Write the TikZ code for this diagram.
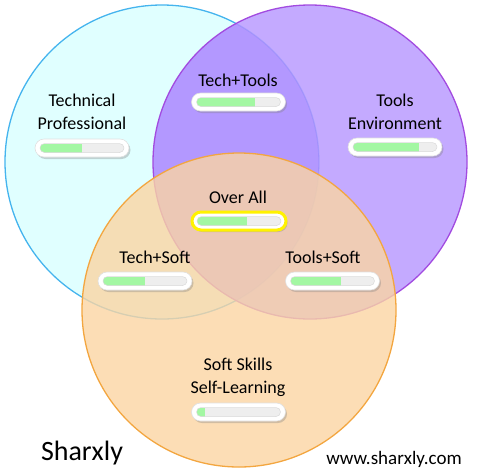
\documentclass[tikz,border=0pt]{standalone}
\usepackage{fontspec}
\setmainfont{Carlito}
\usepackage{tikz}
\usetikzlibrary{calc,shadows}
\definecolor{techfill}{HTML}{E0FFFF}
\definecolor{techline}{HTML}{45B4EE}
\definecolor{toolfill}{HTML}{BA9BFF}
\definecolor{toolline}{HTML}{A24BE0}
\definecolor{bothfill}{HTML}{8A5CFF}
\definecolor{softfill}{HTML}{FBD5A3}
\definecolor{softline}{HTML}{F3A640}
\definecolor{bargreen}{HTML}{A3F7A3}
\definecolor{bartrack}{HTML}{EEEEEE}
\tikzset{
  label text/.style={font=\fontsize{18}{23}\selectfont, align=center, inner sep=0pt},
  barbox/.style={minimum width=94pt, minimum height=18pt, rounded corners=9pt, inner sep=0pt,
    fill=white, draw=black!12, line width=0.6pt,
    drop shadow={shadow xshift=1.5pt, shadow yshift=-2pt, opacity=0.35}},
}
\def\skillbar[#1](#2)(#3)(#4){%
  \node[barbox,#1] (#2) at (#3) {};
  \begin{scope}
    \clip[rounded corners=4.5pt] ($(#2.center)+(-42pt,-4.5pt)$) rectangle ($(#2.center)+(42pt,4.5pt)$);
    \fill[bartrack] ($(#2.center)+(-42pt,-4.5pt)$) rectangle ($(#2.center)+(42pt,4.5pt)$);
    \fill[bargreen] ($(#2.center)+(-42pt,-4.5pt)$) rectangle ($(#2.center)+(-42pt+#4*84pt,4.5pt)$);
  \end{scope}
  \draw[black!15, line width=0.5pt, rounded corners=4.5pt] ($(#2.center)+(-42pt,-4.5pt)$) rectangle ($(#2.center)+(42pt,4.5pt)$);
}

\begin{document}
\begin{tikzpicture}[x=1pt, y=-1pt]
	%%%%% START %%%%%
	\useasboundingbox (0,0) rectangle (481,475);
	
	\fill[techfill] (162,162) circle[radius=157pt];
	\draw[techline, line width=1.3pt] (162,162) circle[radius=157pt];
	
	\fill[toolfill, fill opacity=0.85] (310,162) circle[radius=157pt];
	\begin{scope}
		\clip (162,162) circle[radius=157pt];
		\fill[bothfill, fill opacity=0.22] (310,162) circle[radius=157pt];
	\end{scope}
	\draw[toolline, line width=1.3pt] (310,162) circle[radius=157pt];
	
	\fill[softfill, fill opacity=0.8] (239,310) circle[radius=157pt];
	\draw[softline, line width=1.3pt] (239,310) circle[radius=157pt];
	
	\node[label text] (techlabel) at (82,112) {Technical\\Professional};
	\node[label text] (tooltechlabel) at (238,80) {Tech+Tools};
	\node[label text] (toollabel) at (395,112) {Tools\\Environment};
	\node[label text] (overlabel) at (238,197) {Over All};
	\node[label text] (techsoftlabel) at (155,257) {Tech+Soft};
	\node[label text] (toolsoftlabel) at (323,257) {Tools+Soft};
	\node[label text] (softlabel) at (238,377) {Soft Skills\\Self-Learning};
	
	\skillbar[](techbar)(82,148)(0.5)
	\skillbar[](tooltechbar)(238.5,102)(0.7)
	\skillbar[](toolbar)(395,147)(0.78)
	\skillbar[draw=yellow, line width=3pt](overbar)(239,221)(0.6)
	\skillbar[](techsoftbar)(145,281)(0.5)
	\skillbar[](toolsoftbar)(332.5,281)(0.6)
	\skillbar[](softbar)(238.5,412)(0.1)
	
	\node[font=\fontsize{28}{32}\selectfont, inner sep=0pt] (brand) at (82,453) {Sharxly};
	\node[font=\fontsize{19}{23}\selectfont, inner sep=0pt] (site) at (394,459) {www.sharxly.com};
	%%%%% END %%%%%
\end{tikzpicture}
\end{document}
